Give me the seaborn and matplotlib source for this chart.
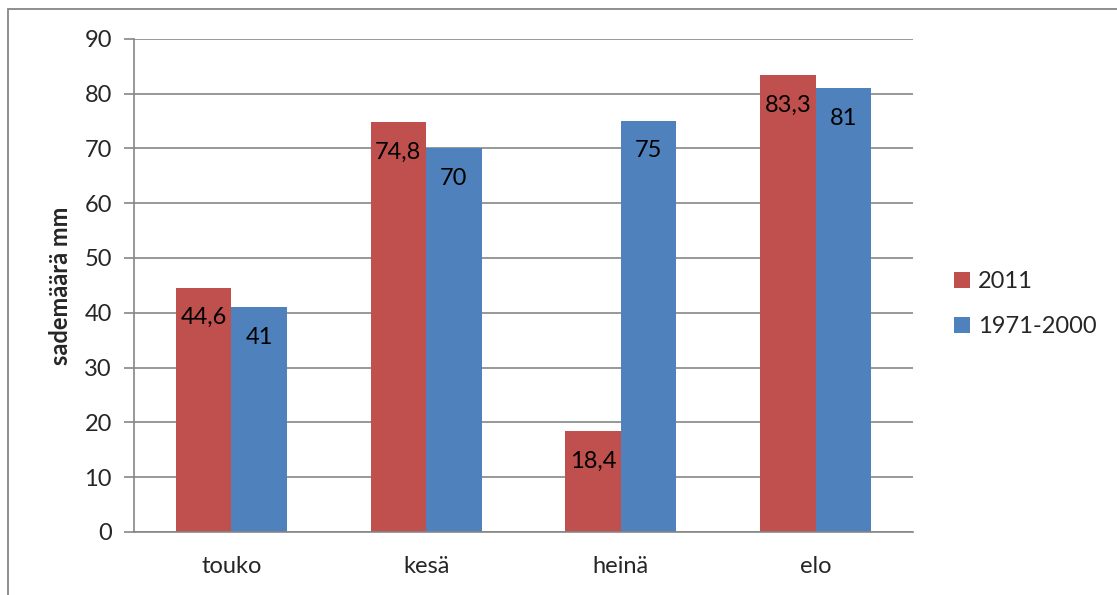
import pandas as pd
import matplotlib.pyplot as plt
import seaborn as sns
from matplotlib.patches import Rectangle

# data
kuukaudet = ["touko", "kesä", "heinä", "elo"]
sarjat = ["2011", "1971-2000"]
sade_2011 = [44.6, 74.8, 18.4, 83.3]
sade_1971_2000 = [41, 70, 75, 81]

punainen = "#C0504D"
sininen = "#4F81BD"
harmaa = "#868686"

df = pd.DataFrame({
    "kuukausi": kuukaudet * 2,
    "sarja": [sarjat[0]] * 4 + [sarjat[1]] * 4,
    "sade": sade_2011 + sade_1971_2000,
})

sns.set_style("white")
plt.rcParams["font.family"] = ["Lato", "DejaVu Sans"]

fig = plt.figure(figsize=(11.17, 5.95), dpi=100)
ax = fig.add_axes([134 / 1117, 1 - 532 / 595, (913 - 134) / 1117, (532 - 38.7) / 595])

sns.barplot(data=df, x="kuukausi", y="sade", hue="sarja", order=kuukaudet,
            hue_order=sarjat, palette=[punainen, sininen], width=0.57,
            saturation=1, linewidth=0, ax=ax)

ax.set_xlim(-0.5, 3.5)
ax.set_ylim(0, 90)
ax.set_yticks(range(0, 91, 10))
ax.yaxis.grid(True, color=harmaa, linewidth=1.2)
ax.set_axisbelow(True)
for s in ["top", "right"]:
    ax.spines[s].set_visible(False)
for s in ["left", "bottom"]:
    ax.spines[s].set_color(harmaa)
    ax.spines[s].set_linewidth(1.2)

ax.tick_params(axis="y", left=True, length=7, width=1.2, color=harmaa,
               labelsize=17, pad=9)
ax.tick_params(axis="x", bottom=False, labelsize=17, pad=14)
ax.set_xlabel("")
ax.set_ylabel("sademäärä mm", fontsize=17, fontweight="bold", labelpad=9)

# arvot palkkien sisälle ylälaitaan
for cont in ax.containers:
    for bar in cont:
        h = bar.get_height()
        teksti = f"{h:g}".replace(".", ",")
        ax.annotate(teksti, (bar.get_x() + bar.get_width() / 2, h),
                    xytext=(0, -21.6), textcoords="offset points",
                    ha="center", va="center", fontsize=17, color="black")

ax.legend(loc="center left", bbox_to_anchor=((954 - 134) / 779, 0.462),
          frameon=False, borderaxespad=0, borderpad=0,
          fontsize=17, handlelength=0.68, handleheight=0.68, handletextpad=0.35,
          labelspacing=1.0)

# kehys kuvan ympärillä
fig.patches.append(Rectangle((8 / 1117, -0.1), 1.2, 1 - 9 / 595 + 0.1,
                             transform=fig.transFigure, fill=False,
                             edgecolor=harmaa, linewidth=1.3))

fig.savefig("out.png", dpi=100)
